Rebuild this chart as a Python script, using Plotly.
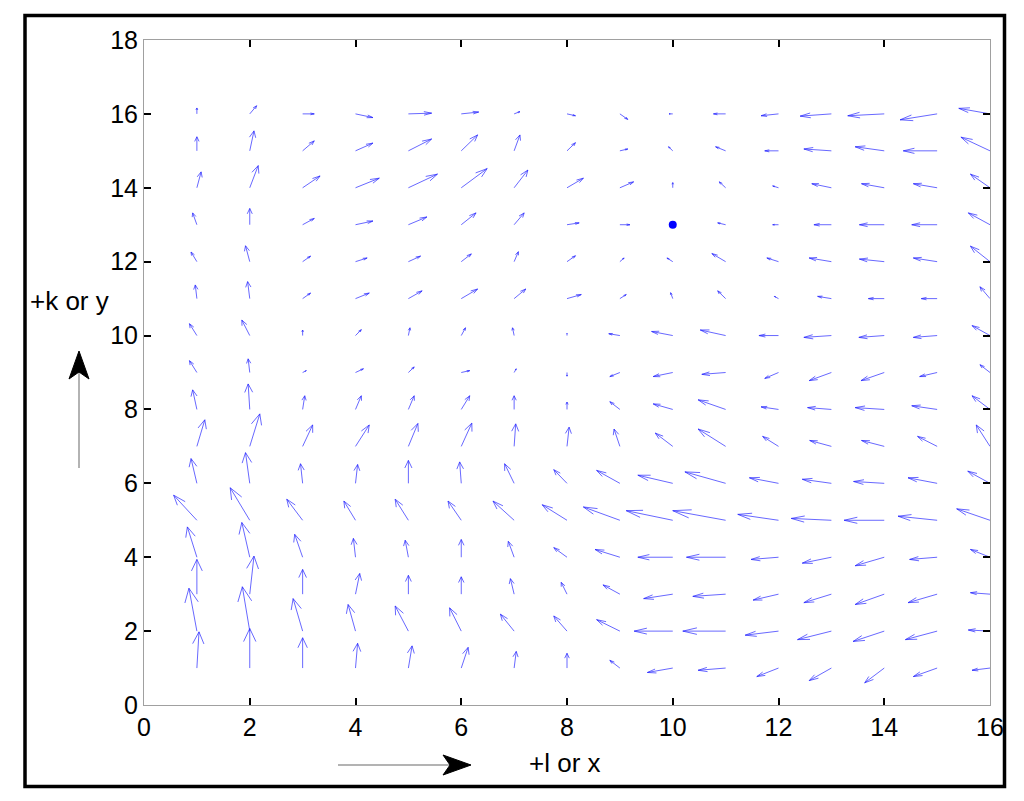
import numpy as np
import plotly.graph_objects as go

# ---------------- data ----------------
x_grid = list(range(1, 17))
y_grid = list(range(1, 17))

# U (x-component) per row, rows from y=1 (first) to y=16 (last), columns x=1..16
U_rows = [
    [0.04, 0.00, 0.00, 0.04, 0.07, 0.13, 0.04, 0.00, -0.19, -0.48, -0.52, -0.41, -0.42, -0.37, -0.45, -0.34],
    [-0.15, -0.14, -0.18, -0.14, -0.25, -0.22, -0.26, -0.25, -0.44, -0.73, -0.81, -0.63, -0.64, -0.59, -0.60, -0.41],
    [0.00, 0.08, 0.00, 0.08, 0.00, 0.00, -0.07, -0.11, -0.32, -0.55, -0.62, -0.48, -0.52, -0.55, -0.55, -0.37],
    [-0.18, -0.15, -0.15, -0.04, -0.06, 0.00, -0.11, -0.25, -0.47, -0.66, -0.74, -0.52, -0.55, -0.55, -0.52, -0.37],
    [-0.44, -0.37, -0.30, -0.22, -0.25, -0.25, -0.40, -0.47, -0.69, -0.88, -1.00, -0.77, -0.76, -0.76, -0.74, -0.63],
    [-0.11, -0.08, -0.04, 0.04, 0.00, -0.03, -0.18, -0.25, -0.44, -0.66, -0.77, -0.55, -0.55, -0.58, -0.55, -0.42],
    [0.15, 0.19, 0.19, 0.26, 0.18, 0.20, 0.03, 0.04, -0.11, -0.33, -0.52, -0.30, -0.41, -0.43, -0.37, -0.26],
    [-0.08, -0.03, 0.04, 0.11, 0.11, 0.16, 0.00, 0.00, -0.19, -0.37, -0.52, -0.33, -0.45, -0.55, -0.48, -0.34],
    [-0.14, -0.03, 0.07, 0.15, 0.11, 0.16, 0.04, 0.00, -0.19, -0.37, -0.45, -0.26, -0.42, -0.44, -0.33, -0.19],
    [-0.14, -0.15, 0.00, 0.11, 0.03, 0.08, -0.03, 0.00, -0.21, -0.40, -0.48, -0.37, -0.52, -0.48, -0.45, -0.34],
    [-0.03, -0.04, 0.15, 0.26, 0.26, 0.31, 0.22, 0.27, 0.12, -0.04, -0.15, -0.08, -0.26, -0.30, -0.30, -0.19],
    [-0.11, -0.08, 0.15, 0.22, 0.23, 0.19, 0.08, 0.16, 0.08, -0.11, -0.26, -0.22, -0.42, -0.47, -0.45, -0.37],
    [-0.08, 0.00, 0.22, 0.33, 0.35, 0.28, 0.19, 0.23, 0.19, 0.00, -0.15, -0.11, -0.33, -0.47, -0.48, -0.41],
    [0.08, 0.16, 0.33, 0.45, 0.55, 0.49, 0.26, 0.31, 0.26, 0.00, -0.12, -0.11, -0.37, -0.43, -0.45, -0.37],
    [0.00, 0.08, 0.22, 0.33, 0.44, 0.31, 0.11, 0.16, 0.15, -0.08, -0.19, -0.26, -0.52, -0.55, -0.64, -0.55],
    [0.00, 0.13, 0.22, 0.33, 0.44, 0.33, 0.11, 0.16, 0.15, -0.07, -0.23, -0.33, -0.59, -0.69, -0.70, -0.59],
]

# V (y-component) per row, same layout
V_rows = [
    [0.98, 1.07, 0.82, 0.67, 0.60, 0.56, 0.45, 0.40, 0.21, -0.12, -0.06, -0.23, -0.34, -0.40, -0.23, -0.06],
    [1.16, 1.20, 0.88, 0.72, 0.68, 0.63, 0.46, 0.41, 0.31, 0.00, 0.00, -0.11, -0.23, -0.28, -0.23, 0.03],
    [0.94, 1.03, 0.67, 0.56, 0.51, 0.47, 0.42, 0.32, 0.25, -0.12, -0.06, -0.16, -0.23, -0.28, -0.23, 0.04],
    [0.82, 0.94, 0.62, 0.51, 0.46, 0.48, 0.43, 0.26, 0.21, 0.00, 0.00, -0.06, -0.16, -0.23, -0.06, 0.21],
    [0.68, 0.88, 0.57, 0.52, 0.57, 0.52, 0.52, 0.42, 0.36, 0.26, 0.26, 0.16, 0.05, 0.00, 0.11, 0.31],
    [0.67, 0.83, 0.53, 0.51, 0.62, 0.58, 0.53, 0.37, 0.35, 0.22, 0.31, 0.15, 0.11, 0.05, 0.15, 0.33],
    [0.72, 0.88, 0.58, 0.58, 0.62, 0.63, 0.61, 0.52, 0.47, 0.36, 0.47, 0.27, 0.16, 0.16, 0.27, 0.58],
    [0.53, 0.69, 0.37, 0.37, 0.37, 0.37, 0.37, 0.20, 0.21, 0.15, 0.26, 0.07, 0.05, 0.05, 0.10, 0.37],
    [0.32, 0.37, 0.05, 0.10, 0.15, 0.05, 0.10, -0.10, -0.11, -0.11, -0.05, -0.16, -0.22, -0.22, -0.11, 0.21],
    [0.32, 0.42, 0.15, 0.16, 0.21, 0.21, 0.21, 0.06, 0.05, 0.11, 0.15, 0.00, -0.05, -0.05, -0.05, 0.27],
    [0.37, 0.46, 0.15, 0.15, 0.21, 0.26, 0.26, 0.11, 0.11, 0.16, 0.21, 0.06, 0.06, 0.00, 0.00, 0.32],
    [0.26, 0.43, 0.15, 0.10, 0.15, 0.21, 0.27, 0.16, 0.10, 0.10, 0.22, 0.10, 0.10, 0.07, 0.10, 0.42],
    [0.32, 0.44, 0.17, 0.10, 0.21, 0.32, 0.32, 0.05, 0.00, 0.00, 0.05, 0.00, 0.00, 0.00, 0.00, 0.32],
    [0.43, 0.60, 0.32, 0.26, 0.37, 0.52, 0.48, 0.26, 0.16, 0.14, 0.16, 0.05, 0.11, 0.11, 0.11, 0.37],
    [0.38, 0.54, 0.27, 0.21, 0.32, 0.43, 0.43, 0.22, 0.05, 0.11, 0.11, 0.00, 0.05, 0.11, 0.00, 0.37],
    [0.16, 0.22, 0.00, -0.10, 0.02, 0.05, 0.06, -0.05, -0.15, 0.00, 0.00, -0.05, -0.06, -0.05, -0.16, 0.15],
]

center_x = [10]
center_y = [13]

x_ticks = list(range(0, 17, 2))
y_ticks = list(range(0, 19, 2))

# ---------------- quiver geometry (MATLAB-style heads) ----------------
alpha, beta = 0.33, 0.33
X, Y = np.meshgrid(np.array(x_grid, float), np.array(y_grid, float))
U = np.array(U_rows, float)
V = np.array(V_rows, float)
eps = 1e-12

xs, ys = [], []
for xi, yi, ui, vi in zip(X.ravel(), Y.ravel(), U.ravel(), V.ravel()):
    if abs(ui) < 1e-9 and abs(vi) < 1e-9:
        continue
    tx, ty = xi + ui, yi + vi
    xs += [xi, tx, None]
    ys += [yi, ty, None]
    xs += [tx - alpha * (ui + beta * (vi + eps)), tx, tx - alpha * (ui - beta * (vi + eps)), None]
    ys += [ty - alpha * (vi - beta * (ui + eps)), ty, ty - alpha * (vi + beta * (ui + eps)), None]

fig = go.Figure()
fig.add_trace(go.Scatter(x=xs, y=ys, mode="lines",
                         line=dict(color="rgba(40,40,255,0.7)", width=1),
                         hoverinfo="skip"))
fig.add_trace(go.Scatter(x=center_x, y=center_y, mode="markers",
                         marker=dict(color="#0000ff", size=8)))

# ---------------- layout ----------------
# The page body has an 8px margin; work in screen pixels and subtract it.
OFF = 8
W, H = 1024 - 2 * OFF, 801 - 2 * OFF
PX0, PX1 = 144, 990      # plot area in screen pixels (x)
PY0, PY1 = 40, 705       # plot area in screen pixels (y)
L = PX0 - OFF
R = W - (PX1 - OFF)
T = PY0 - OFF
B = H - (PY1 - OFF)
pw, ph = PX1 - PX0, PY1 - PY0

def px2x(px):
    return (px - PX0) / pw

def py2y(py):
    return (PY1 - py) / ph

tick_font = dict(family="Liberation Sans, Arial, sans-serif", size=25, color="black")
label_font = dict(family="Liberation Sans, Arial, sans-serif", size=26, color="black")
axis_common = dict(showgrid=False, zeroline=False, showline=True,
                   linecolor="#a0a0a0", linewidth=1, mirror="ticks",
                   ticks="inside", ticklen=7, tickwidth=2, tickcolor="black",
                   tickfont=tick_font)

fig.update_layout(
    width=W, height=H,
    margin=dict(l=L, r=R, t=T, b=B, pad=0),
    plot_bgcolor="white", paper_bgcolor="white",
    showlegend=False,
    xaxis=dict(range=[0, 16], tickvals=x_ticks, **axis_common),
    yaxis=dict(range=[0, 18], tickvals=y_ticks, **axis_common),
)

shapes = []
# outer thick frame
shapes.append(dict(type="rect", xref="paper", yref="paper",
                   x0=px2x(25), x1=px2x(1004.5), y0=py2y(786.5), y1=py2y(15.5),
                   line=dict(color="black", width=3.5), fillcolor="rgba(0,0,0,0)"))
# vertical direction arrow (shaft)
shapes.append(dict(type="line", xref="paper", yref="paper",
                   x0=px2x(79), x1=px2x(79), y0=py2y(468), y1=py2y(372),
                   line=dict(color="#9a9a9a", width=1.5)))
# vertical arrow head
shapes.append(dict(type="path", xref="paper", yref="paper",
                   xsizemode="pixel", ysizemode="pixel",
                   xanchor=px2x(79), yanchor=py2y(351),
                   path="M 0 0 L -10 -28 L 0 -21 L 10 -28 Z",
                   fillcolor="black", line=dict(color="black", width=1)))
# horizontal direction arrow (shaft)
shapes.append(dict(type="line", xref="paper", yref="paper",
                   x0=px2x(338), x1=px2x(452), y0=py2y(765), y1=py2y(765),
                   line=dict(color="#9a9a9a", width=1.5)))
# horizontal arrow head
shapes.append(dict(type="path", xref="paper", yref="paper",
                   xsizemode="pixel", ysizemode="pixel",
                   xanchor=px2x(471), yanchor=py2y(765),
                   path="M 0 0 L -28 10 L -21 0 L -28 -10 Z",
                   fillcolor="black", line=dict(color="black", width=1)))
fig.update_layout(shapes=shapes)

fig.add_annotation(text="+k or y", xref="paper", yref="paper",
                   x=px2x(69), y=py2y(301), showarrow=False,
                   xanchor="center", yanchor="middle", font=label_font)
fig.add_annotation(text="+l or x", xref="paper", yref="paper",
                   x=px2x(565), y=py2y(763), showarrow=False,
                   xanchor="center", yanchor="middle", font=label_font)

fig.write_html("out.html")
